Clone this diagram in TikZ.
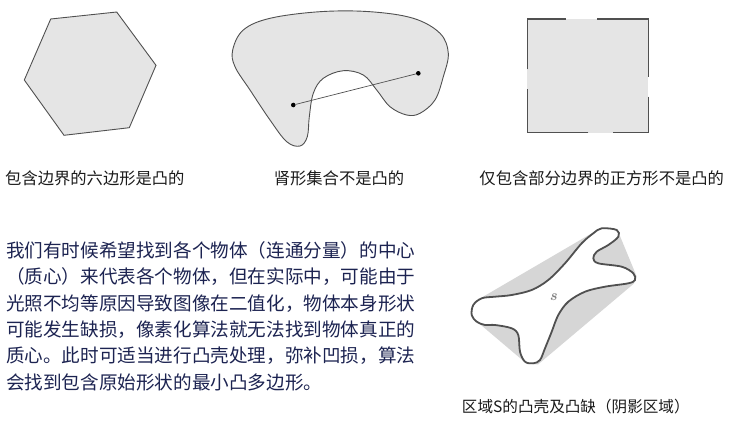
\documentclass[tikz,border=0pt]{standalone}
\usepackage{fontspec}
\newfontfamily\cjk{Noto Sans CJK SC}
\usetikzlibrary{positioning}
\definecolor{shapeFill}{HTML}{E5E5E5}
\definecolor{shapeLine}{HTML}{505050}
\definecolor{hullGray}{HTML}{D6D6D6}
\definecolor{bodyNavy}{HTML}{1C2351}
\definecolor{capDark}{HTML}{1A1A1A}

\begin{document}
\begin{tikzpicture}[x=1pt, y=-1pt,
    figshape/.style={fill=shapeFill, draw=shapeLine, line width=0.9pt},
    gapedge/.style={draw=shapeLine, line width=1.1pt},
    caption/.style={inner sep=0pt, text=capDark, font=\cjk\fontsize{16.3}{18}\selectfont},
    bodyline/.style={inner sep=0pt, anchor=base west, text=bodyNavy,
                     font=\cjk\fontsize{18.6}{22}\selectfont},
    endpt/.style={circle, fill=black, inner sep=0pt, minimum size=4.6pt},
  ]
    \useasboundingbox (0,0) rectangle (734,423);

    % ─── hexagon ───
    \filldraw[figshape] (50.7,19) -- (116.7,12) -- (156,65.3) -- (129.3,127.7)
      -- (64,135.3) -- (24.3,80) -- cycle;
    \node[caption, anchor=base west] (cap1) at (5,184) {包含边界的六边形是凸的};

    % ─── kidney ───
    \filldraw[figshape] plot[smooth cycle, tension=0.6] coordinates {
      (232.7,50) (243.3,30) (270,18.3) (320,11.7) (370,11.7) (413.3,18.3)
      (440,33.3) (448.3,53.3) (443.3,76.7) (435,100) (420,113.3) (406.7,115)
      (390,106.7) (376.7,90) (363.3,75) (343.3,70.7) (323.3,78.3) (313.3,93.3)
      (309.3,116.7) (307.3,136.7) (300,146) (286.7,141.7) (270,120) (250,90)
      (235,66.7)};
    \node[endpt] (p) at (293.3,105) {};
    \node[endpt] (q) at (418.3,73.3) {};
    \draw[shapeLine, line width=0.7pt] (p) -- (q);
    \node[caption, anchor=base] (cap2) at (339,184) {肾形集合不是凸的};

    % ─── square with missing boundary parts ───
    \fill[shapeFill] (527.3,19) rectangle (648.3,132.7);
    \draw[gapedge] (527.3,19) -- (566,19);
    \draw[gapedge] (597.3,19) -- (648.3,19) -- (648.3,77.3);
    \draw[gapedge] (648.3,96.7) -- (648.3,132.7) -- (612.7,132.7);
    \draw[gapedge] (588.3,132.7) -- (527.3,132.7) -- (527.3,89.3);
    \draw[gapedge] (527.3,69.3) -- (527.3,19);
    \node[caption, anchor=base] (cap3) at (601.7,184) {仅包含部分边界的正方形不是凸的};

    % ─── text block ───
    \foreach \t [count=\i from 0] in {
        我们有时候希望找到各个物体（连通分量）的中心,
        （质心）来代表各个物体，但在实际中，可能由于,
        光照不均等原因导致图像在二值化，物体本身形状,
        可能发生缺损，像素化算法就无法找到物体真正的,
        质心。此时可适当进行凸壳处理，弥补凹损，算法,
        会找到包含原始形状的最小凸多边形。}
      \node[bodyline] (body\i) at (6, 257.1 + \i*26.45) {\t};

    % ─── convex hull of S ───
    \fill[hullGray] (601.7,227.5) -- (617,228.8) -- (636.5,276) -- (634,283.5)
      -- (538,364.5) -- (527,364) -- (471.5,317) -- (474,302) -- cycle;
    \filldraw[fill=white, draw=shapeLine, line width=1.8pt]
      plot[smooth cycle, tension=0.55] coordinates {
      (601.7,228.3) (616.7,230) (618.3,236.7) (608.3,245) (596.7,251.7)
      (593.3,258.3) (598.3,263.3) (621.7,266.7) (633.3,273.3) (635,280)
      (628.3,283.3) (605,286.7) (585,291.7) (568.3,301.7) (558.3,315)
      (551.7,331.7) (545,348.3) (540,360) (533.3,363.3) (525,361.7)
      (520,351.7) (518.3,335) (511.7,328.3) (495,325) (485,325)
      (476.7,321.7) (471.7,315) (473.3,305) (481.7,298.3) (495,296.7)
      (511.7,295) (531.7,290) (548.3,280) (565,263.3) (581.7,243.3)
      (593.3,233.3)};
    \node[inner sep=0pt, text=gray, font=\fontsize{15}{16}\selectfont\bfseries\itshape] (s)
      at (553.3,296.7) {s};
    \node[inner sep=0pt, anchor=base, text=capDark, font=\cjk\fontsize{15.6}{18}\selectfont]
      (cap4) at (575.8,412.7) {区域S的凸壳及凸缺（阴影区域）};
  \end{tikzpicture}
\end{document}
